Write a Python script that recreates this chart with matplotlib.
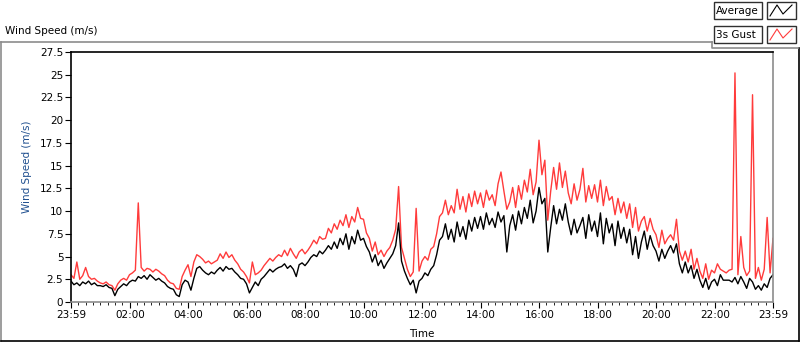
import numpy as np
import matplotlib.pyplot as plt
from matplotlib.patches import Rectangle
from matplotlib.lines import Line2D

# samples every 6 min, from 23:59 (prev day) to 23:59
step_min = 6
avg = [
    2.3, 1.9, 2.1, 1.8, 2.2, 2.0, 2.3, 1.9, 2.1, 1.8,   # 00h
    1.8, 1.7, 1.9, 1.6, 1.5, 0.7, 1.4, 1.7, 2.0, 1.8,   # 01h
    2.2, 2.4, 2.3, 2.8, 2.6, 2.9, 2.5, 3.0, 2.7, 2.4,   # 02h
    2.6, 2.3, 2.1, 1.7, 1.5, 1.4, 0.8, 0.6, 1.9, 2.4,   # 03h
    2.2, 1.3, 2.6, 3.7, 3.9, 3.5, 3.2, 3.0, 3.3, 3.1,   # 04h
    3.5, 3.8, 3.4, 3.9, 3.6, 3.7, 3.3, 3.0, 2.6, 2.5,   # 05h
    2.0, 1.0, 1.6, 2.2, 1.8, 2.5, 2.8, 3.2, 3.6, 3.3,   # 06h
    3.6, 3.8, 3.9, 4.2, 3.7, 4.0, 3.6, 2.8, 4.1, 4.3,   # 07h
    4.0, 4.4, 4.9, 5.2, 5.0, 5.6, 5.3, 5.7, 6.2, 5.8,   # 08h
    6.6, 5.9, 7.0, 6.3, 7.5, 5.8, 7.2, 6.4, 7.9, 6.8,   # 09h
    7.0, 6.1, 5.5, 4.4, 5.2, 4.0, 4.6, 3.7, 4.3, 4.8,   # 10h
    5.3, 6.2, 8.7, 4.5, 3.4, 2.6, 1.9, 2.4, 1.0, 2.3,   # 11h
    2.6, 3.2, 2.9, 3.6, 4.0, 5.2, 6.8, 7.2, 8.6, 6.9,   # 12h
    8.0, 6.6, 8.8, 7.2, 8.3, 6.9, 9.0, 7.8, 9.3, 8.1,   # 13h
    9.4, 8.0, 9.8, 8.5, 9.2, 8.2, 9.9, 8.8, 9.5, 5.5,   # 14h
    8.4, 9.6, 7.9, 10.0, 8.6, 10.4, 9.2, 11.2, 8.7, 10.0,  # 15h
    12.6, 10.8, 11.4, 5.5, 8.2, 10.6, 8.6, 10.2, 9.0, 10.8,  # 16h
    8.8, 7.4, 9.1, 7.6, 8.4, 9.3, 7.0, 9.6, 7.8, 8.9,   # 17h
    7.2, 9.8, 6.4, 9.2, 7.6, 8.6, 6.2, 8.9, 7.0, 8.2,   # 18h
    6.5, 8.0, 5.2, 7.2, 4.8, 6.6, 7.8, 5.8, 7.3, 6.2,   # 19h
    5.6, 4.5, 5.8, 4.8, 5.6, 6.2, 5.4, 6.4, 4.2, 3.2,   # 20h
    4.4, 3.2, 4.0, 2.6, 3.6, 2.4, 1.6, 2.6, 1.4, 2.2,   # 21h
    2.5, 1.8, 3.0, 2.4, 2.4, 2.4, 2.2, 2.7, 2.0, 2.8,   # 22h
    2.2, 1.5, 2.6, 2.2, 1.4, 1.8, 1.3, 2.0, 1.6, 2.6, 3.0,  # 23h
]
gust = [
    3.0, 2.6, 4.4, 2.5, 2.9, 3.8, 2.8, 2.5, 2.6, 2.3,
    2.1, 2.0, 2.2, 1.9, 1.8, 1.3, 2.0, 2.4, 2.6, 2.4,
    3.0, 3.2, 3.5, 10.9, 3.8, 3.4, 3.7, 3.6, 3.3, 3.6,
    3.4, 3.1, 2.9, 2.4, 2.1, 2.0, 1.5, 1.4, 2.8, 3.5,
    4.1, 2.8, 4.4, 5.2, 5.0, 4.7, 4.3, 4.5, 4.2, 4.4,
    4.6, 5.3, 4.8, 5.5, 4.9, 5.2, 4.6, 4.2, 3.6, 3.3,
    2.8, 2.1, 4.4, 3.0, 3.2, 3.5, 4.0, 4.4, 4.8, 4.5,
    4.9, 5.2, 5.0, 5.7, 5.1, 5.9, 5.3, 4.8, 5.5, 5.8,
    5.3, 5.7, 6.2, 6.8, 6.4, 7.2, 6.9, 7.0, 8.1, 7.6,
    8.6, 8.0, 9.0, 8.4, 9.6, 8.2, 9.4, 8.8, 10.4, 9.2,
    9.1, 7.6, 7.0, 5.6, 6.6, 5.2, 5.7, 5.0, 5.6, 6.0,
    6.8, 8.0, 12.7, 6.0, 4.8, 3.6, 2.8, 3.3, 10.3, 3.4,
    4.5, 5.0, 4.6, 5.8, 6.1, 7.5, 9.4, 9.8, 11.2, 9.6,
    10.6, 9.8, 12.4, 10.2, 11.6, 9.9, 11.9, 10.5, 12.2, 10.8,
    12.0, 10.4, 12.3, 11.2, 11.8, 10.6, 13.0, 14.3, 12.2, 10.2,
    11.0, 12.6, 10.4, 12.8, 11.3, 13.4, 12.1, 14.6, 11.8, 13.2,
    17.8, 14.0, 15.6, 9.0, 12.2, 14.8, 12.4, 15.3, 12.6, 14.4,
    12.0, 10.8, 13.0, 11.2, 12.4, 14.7, 11.0, 12.8, 11.4, 12.9,
    11.0, 13.4, 10.6, 12.7, 11.2, 11.6, 9.6, 11.4, 9.8, 11.0,
    9.2, 10.8, 8.2, 10.4, 7.8, 8.9, 9.4, 7.8, 9.2, 8.0,
    7.4, 6.0, 7.9, 6.4, 7.0, 7.4, 6.8, 9.1, 5.6, 4.6,
    5.6, 4.4, 5.8, 3.6, 4.8, 3.4, 2.6, 4.2, 2.5, 3.5,
    3.2, 4.2, 3.6, 3.4, 3.2, 3.5, 3.6, 25.2, 3.0, 7.2,
    3.8, 2.9, 3.4, 22.8, 2.6, 3.8, 2.4, 3.6, 9.3, 3.2, 7.0,
]
tick_labels = ['23:59', '02:00', '04:00', '06:00', '08:00', '10:00',
               '12:00', '14:00', '16:00', '18:00', '20:00', '22:00', '23:59']

t = -1 + step_min * np.arange(len(avg))

fig = plt.figure(figsize=(8, 3.42), dpi=100)
plt.rcParams['font.family'] = 'DejaVu Sans'

# frame / legend decorations drawn in pixel space
bg = fig.add_axes([0, 0, 1, 1])
bg.set_xlim(0, 800)
bg.set_ylim(342, 0)
bg.axis('off')
bg.add_line(Line2D([1, 712], [42, 42], color='#8c8c8c', lw=1.2))
bg.add_line(Line2D([1, 1], [42, 341], color='#8c8c8c', lw=1.2))
bg.add_line(Line2D([1, 799], [341, 341], color='black', lw=1.2))
bg.add_line(Line2D([799, 799], [48, 341], color='black', lw=1.2))
bg.add_line(Line2D([712, 712, 798], [42, 48, 48], color='#8c8c8c', lw=1.2))
bg.text(5, 31, 'Wind Speed (m/s)', fontsize=7.5, va='center', ha='left')

legend_items = [('Average', 'black', 2), ('3s Gust', '#ff3b3b', 26)]
for name, col, y0 in legend_items:
    bg.add_patch(Rectangle((714, y0), 48, 17, fc='white', ec='#303030', lw=1))
    bg.text(716, y0 + 9, name, fontsize=7.5, va='center', ha='left')
    bg.add_patch(Rectangle((767, y0), 29, 17, fc='white', ec='#303030', lw=1))
    bg.add_line(Line2D([770, 777, 783, 792], [y0 + 14, y0 + 3, y0 + 12, y0 + 3],
                       color=col, lw=0.8))

ax = fig.add_axes([71 / 800, 1 - 302 / 342, 702 / 800, 250 / 342])
ax.plot(t, gust, color='#ff3b3b', lw=1.0)
ax.plot(t, avg, color='black', lw=1.0)

ax.set_xlim(-1, 1439)
ax.set_ylim(0, 27.5)
ax.set_yticks(np.arange(0, 27.6, 2.5))
ax.set_yticklabels(['0', '2.5', '5', '7.5', '10', '12.5', '15', '17.5',
                    '20', '22.5', '25', '27.5'])
ax.set_xticks([-1] + list(range(120, 1440, 120)) + [1439])
ax.set_xticklabels(tick_labels)
ax.set_xticks(np.arange(14, 1439, 15), minor=True)
ax.tick_params(axis='both', labelsize=7.5, direction='out', color='black')
ax.tick_params(axis='y', length=4, pad=1.5)
ax.tick_params(axis='x', which='major', length=4, pad=2)
ax.tick_params(axis='x', which='minor', length=2.5)

for s in ['top', 'left']:
    ax.spines[s].set_color('black')
for s in ['bottom', 'right']:
    ax.spines[s].set_color('#8c8c8c')
for s in ax.spines.values():
    s.set_linewidth(1.2)

ax.set_ylabel('Wind Speed (m/s)', fontsize=7.5, color='#1f4f8f')
ax.yaxis.set_label_coords(-0.055, 0.54)
ax.set_xlabel('Time', fontsize=7.5, va='center')
ax.xaxis.set_label_coords(0.5, -0.128)

fig.savefig('out.png', dpi=100)
